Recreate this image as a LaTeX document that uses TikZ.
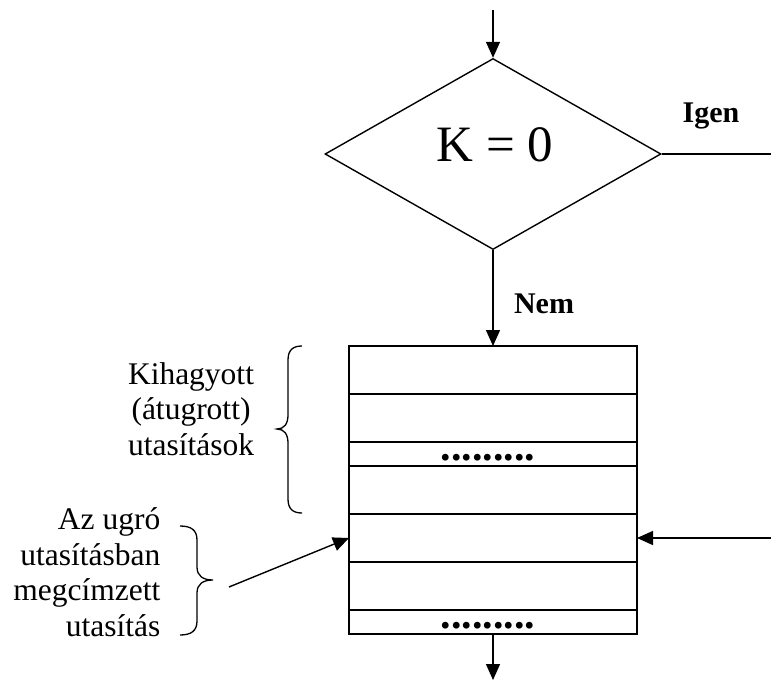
\documentclass[tikz,border=0pt]{standalone}
\usepackage{fontspec}
\setmainfont{Liberation Serif}
\usetikzlibrary{arrows.meta,shapes.geometric}
\begin{document}
\begin{tikzpicture}[x=1pt,y=-1pt,line width=1.4pt,
  arr/.style={-{Triangle[length=16pt,width=14pt]}},
  row/.style={draw,rectangle,minimum width=288pt,inner sep=0pt,outer sep=0pt,anchor=north west},
  lbl/.style={font=\fontsize{31.5}{35.5}\selectfont,inner sep=0pt},
  bold/.style={font=\fontsize{30}{36}\selectfont\bfseries,inner sep=0pt,anchor=base},
  dotrow/.style={font=\fontsize{42}{42}\selectfont\bfseries,inner sep=0pt,anchor=base},
  brace/.style={line width=1.3pt}]
\useasboundingbox (0,0) rectangle (771,680);
% decision
\node[draw,diamond,minimum width=336pt,minimum height=191pt,inner sep=0pt] (d) at (493,154) {};
\node[font=\fontsize{51}{60}\selectfont,anchor=base,inner sep=0pt] (k) at (495,161) {K = 0};
\coordinate (top) at (493,10);
\coordinate (igenend) at (771,154);
\draw[arr] (top) -- (d.north);
\draw (d.east) -- (igenend);
\node[bold] (igen) at (711,122) {Igen};
% instruction stack
\node[row,minimum height=48pt] (r1) at (349,346) {};
\node[row,minimum height=48pt] (r2) at (r1.south west) {};
\node[row,minimum height=24pt] (r3) at (r2.south west) {};
\node[row,minimum height=48pt] (r4) at (r3.south west) {};
\node[row,minimum height=48pt] (r5) at (r4.south west) {};
\node[row,minimum height=48pt] (r6) at (r5.south west) {};
\node[row,minimum height=24pt] (r7) at (r6.south west) {};
\node[dotrow] (dots1) at (488,460) {.........};
\node[dotrow] (dots2) at (488,628) {.........};
\draw[arr] (d.south) -- (r1.north);
\node[bold] (nem) at (544,313) {Nem};
\coordinate (bot) at (493,680);
\draw[arr] (r7.south) -- (bot);
\coordinate (rin) at (771,538);
\draw[arr] (rin) -- (r5.east);
\coordinate (lin) at (229,587);
\draw[arr] (lin) -- (r5.west);
% braces
\draw[brace] (302,346) .. controls (293,346) and (288,350) .. (288,360) -- (288,415)
  .. controls (288,424) and (284,429) .. (277,429)
  .. controls (284,429) and (288,434) .. (288,443) -- (288,499)
  .. controls (288,509) and (293,513) .. (302,513);
\draw[brace] (180,526) .. controls (191,526) and (197,530) .. (197,540) -- (197,567)
  .. controls (197,576) and (203,580) .. (213,580)
  .. controls (203,580) and (197,584) .. (197,593) -- (197,621)
  .. controls (197,631) and (191,635) .. (180,635);
% labels
\node[lbl,align=center,anchor=base] (kih) at (191,455) {Kihagyott\\(átugrott)\\utasítások};
\node[lbl,align=right,anchor=base east] (cel) at (161,636) {Az ugró\\utasításban\\megcímzett\\utasítás};
\end{tikzpicture}
\end{document}
